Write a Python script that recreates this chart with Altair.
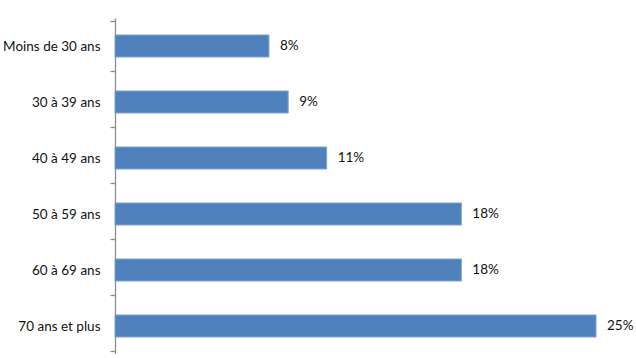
import altair as alt
import pandas as pd

categories = ["Moins de 30 ans", "30 à 39 ans", "40 à 49 ans", "50 à 59 ans", "60 à 69 ans", "70 ans et plus"]
values = [8, 9, 11, 18, 18, 25]
labels = ["8%", "9%", "11%", "18%", "18%", "25%"]

df = pd.DataFrame({"cat": categories, "val": values, "lab": labels})

y = alt.Y("cat:N", sort=categories, title=None,
          axis=alt.Axis(domainColor="#8c8c8c", tickColor="#8c8c8c", tickSize=5, tickBand="extent",
                        labelFont="Lato", labelFontSize=13.5, labelColor="#111111",
                        labelPadding=10, domainWidth=1.3, tickWidth=1.3))
x = alt.X("val:Q", title=None, scale=alt.Scale(domain=[0, 27], nice=False),
          axis=None)

bars = alt.Chart(df).mark_bar(size=22, color="#4F81BD", stroke="#7aa0d0", strokeWidth=1).encode(x=x, y=y)
text = alt.Chart(df).mark_text(align="left", baseline="middle", dx=11, font="Lato", fontSize=13.5,
                               color="#111111").encode(x=x, y=y, text="lab:N")

chart = (bars + text).properties(
    width=519.5, height=336,
    autosize=alt.AutoSizeParams(type="none"),
    padding={"left": 115, "top": 18, "right": 0, "bottom": 0},
).configure_view(stroke=None)

chart.save("out.html", embed_options={"renderer": "svg", "actions": False})
